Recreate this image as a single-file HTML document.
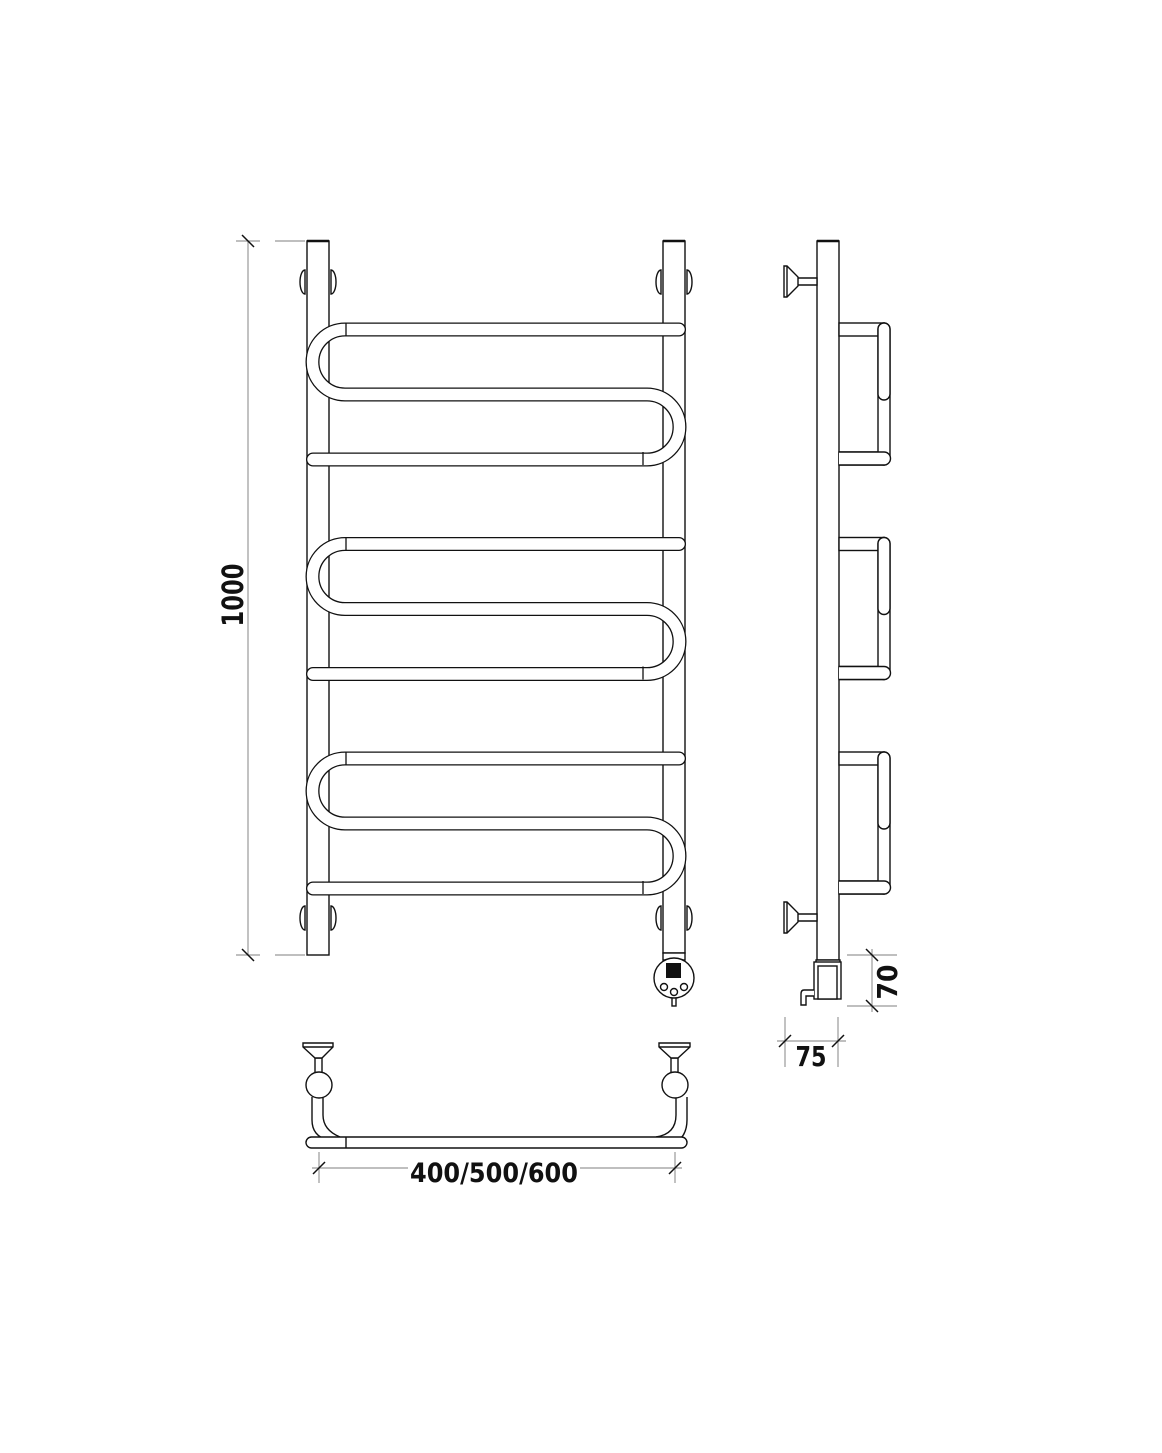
<!DOCTYPE html>
<html><head><meta charset="utf-8"><style>
html,body{margin:0;padding:0;background:#fff}
svg{display:block}
text{font-family:"DejaVu Sans","Liberation Sans",sans-serif;font-weight:bold;fill:#111}
</style></head><body>
<svg width="1162" height="1453" viewBox="0 0 1162 1453" xmlns="http://www.w3.org/2000/svg">
<defs>
<g id="grp">
<path d="M679 329.5 L345 329.5 A32.5 32.5 0 0 0 345 394.5 L647 394.5 A32.5 32.5 0 0 1 647 459.5 L313 459.5" fill="none" stroke="#111" stroke-width="14" stroke-linecap="round"/>
<path d="M679 329.5 L345 329.5 A32.5 32.5 0 0 0 345 394.5 L647 394.5 A32.5 32.5 0 0 1 647 459.5 L313 459.5" fill="none" stroke="#fff" stroke-width="11.4" stroke-linecap="round"/>
<line x1="346" y1="323" x2="346" y2="336" stroke="#111" stroke-width="1.3"/>
<line x1="643" y1="452" x2="643" y2="465" stroke="#111" stroke-width="1.3"/>
</g>
<g id="sgrp" fill="#fff" stroke="#111" stroke-width="1.4">
<rect x="839" y="323" width="45" height="13"/>
<rect x="839" y="452" width="45" height="13"/>
<rect x="878" y="323" width="12" height="142" rx="6"/>
<rect x="878" y="323" width="12" height="77" rx="6"/>
<path d="M839 452 L884 452 A6.5 6.5 0 0 1 884 465 L839 465"/>
</g>
<g id="funnel" fill="#fff" stroke="#111" stroke-width="1.4">
<path d="M797 278 L817 278 L817 285 L797 285"/>
<path d="M784 266 L787 266 L798 277 L798 286 L787 297 L784 297 Z"/>
<line x1="787" y1="266" x2="787" y2="297"/>
</g>
</defs>

<g fill="none" stroke="#999" stroke-width="1.2">
<line x1="248" y1="241" x2="248" y2="955"/>
<line x1="236" y1="241" x2="260" y2="241"/>
<line x1="275" y1="241" x2="305" y2="241"/>
<line x1="236" y1="955" x2="260" y2="955"/>
<line x1="275" y1="955" x2="305" y2="955"/>
<line x1="872" y1="949" x2="872" y2="1012"/>
<line x1="847" y1="955" x2="897" y2="955"/>
<line x1="847" y1="1006" x2="897" y2="1006"/>
<line x1="785" y1="1017" x2="785" y2="1067"/>
<line x1="838" y1="1017" x2="838" y2="1067"/>
<line x1="777" y1="1041" x2="846" y2="1041"/>
<line x1="319" y1="1152" x2="319" y2="1183"/>
<line x1="675" y1="1152" x2="675" y2="1183"/>
<line x1="312" y1="1168" x2="408" y2="1168"/>
<line x1="580" y1="1168" x2="682" y2="1168"/>
</g>
<g stroke="#111" stroke-width="1.5">
<line x1="242" y1="235" x2="254" y2="247"/>
<line x1="242" y1="949" x2="254" y2="961"/>
<line x1="866" y1="949" x2="878" y2="961"/>
<line x1="866" y1="1000" x2="878" y2="1012"/>
<line x1="779" y1="1047" x2="791" y2="1035"/>
<line x1="832" y1="1047" x2="844" y2="1035"/>
<line x1="313" y1="1174" x2="325" y2="1162"/>
<line x1="669" y1="1174" x2="681" y2="1162"/>
</g>
<text x="0" y="0" font-size="29" text-anchor="middle" textLength="63" lengthAdjust="spacingAndGlyphs" transform="translate(243 595) rotate(-90)">1000</text>
<text x="0" y="0" font-size="28" text-anchor="middle" textLength="35" lengthAdjust="spacingAndGlyphs" transform="translate(897 982) rotate(-90)">70</text>
<text x="811" y="1066" font-size="28" text-anchor="middle" textLength="31" lengthAdjust="spacingAndGlyphs">75</text>
<text x="494" y="1182" font-size="27" text-anchor="middle" textLength="168" lengthAdjust="spacingAndGlyphs">400/500/600</text>

<!-- front view -->
<g fill="#fff" stroke="#111" stroke-width="1.4">
<path d="M305 270 A5 12 0 0 0 305 294 Z M331 270 A5 12 0 0 1 331 294 Z"/>
<path d="M661 270 A5 12 0 0 0 661 294 Z M687 270 A5 12 0 0 1 687 294 Z"/>
<path d="M305 906 A5 12 0 0 0 305 930 Z M331 906 A5 12 0 0 1 331 930 Z"/>
<path d="M661 906 A5 12 0 0 0 661 930 Z M687 906 A5 12 0 0 1 687 930 Z"/>
<rect x="307" y="241" width="22" height="714"/>
<rect x="663" y="241" width="22" height="712"/>
<rect x="663" y="953" width="22" height="7"/>
<rect x="672" y="996" width="4" height="10"/>
<circle cx="674" cy="978" r="20"/>
<circle cx="664" cy="987" r="3.5"/>
<circle cx="674" cy="992" r="3.5"/>
<circle cx="684" cy="987" r="3.5"/>
</g>
<line x1="307" y1="241" x2="329" y2="241" stroke="#111" stroke-width="2.5"/>
<line x1="663" y1="241" x2="685" y2="241" stroke="#111" stroke-width="2.5"/>
<rect x="666" y="963" width="15" height="15" fill="#111"/>
<use href="#grp"/>
<use href="#grp" transform="translate(0 214.5)"/>
<use href="#grp" transform="translate(0 429)"/>

<!-- side view -->
<g fill="#fff" stroke="#111" stroke-width="1.4">
<rect x="817" y="241" width="22" height="719"/>
<rect x="816" y="960" width="24" height="4"/>
<rect x="814" y="962" width="27" height="37"/>
<rect x="818" y="966" width="19" height="33"/>
<path d="M814 990 L804 990 Q801 990 801 994 L801 1005 L806 1005 L806 996 L814 996"/>
</g>
<line x1="817" y1="241" x2="839" y2="241" stroke="#111" stroke-width="2.5"/>
<use href="#funnel"/>
<use href="#funnel" transform="translate(0 636)"/>
<use href="#sgrp"/>
<use href="#sgrp" transform="translate(0 214.5)"/>
<use href="#sgrp" transform="translate(0 429)"/>

<!-- bottom view -->
<g fill="#fff" stroke="#111" stroke-width="1.4">
<path d="M312 1097 L312 1120 Q312 1136 328 1140 L346 1140" fill="none"/>
<path d="M323 1097 L323 1115 Q323 1130 340 1137" fill="none"/>
<path d="M676 1097 L676 1115 Q676 1134 656 1137" fill="none"/>
<path d="M687 1097 L687 1120 Q687 1143 662 1148" fill="none"/>
<rect x="306" y="1137" width="381" height="11" rx="5.5"/>
<line x1="346" y1="1137" x2="346" y2="1148"/>
<rect x="315" y="1058" width="7" height="16"/>
<rect x="671" y="1058" width="7" height="16"/>
<path d="M303 1043 L333 1043 L333 1047 L322 1058 L315 1058 L303 1047 Z"/>
<path d="M659 1043 L690 1043 L690 1047 L678 1058 L671 1058 L659 1047 Z"/>
<line x1="303" y1="1047" x2="333" y2="1047"/>
<line x1="659" y1="1047" x2="690" y2="1047"/>
<circle cx="319" cy="1085" r="13"/>
<circle cx="675" cy="1085" r="13"/>
</g>
</svg>
</body></html>
